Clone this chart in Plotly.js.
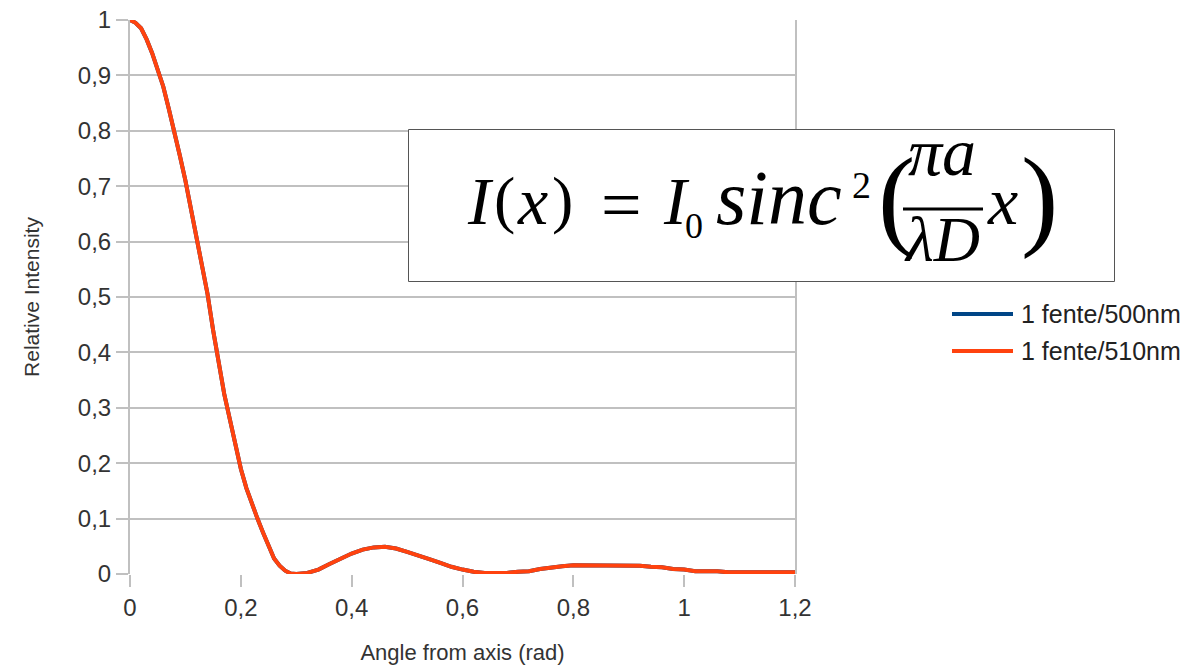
<!DOCTYPE html>
<html>
<head>
<meta charset="utf-8">
<script src="https://cdn.plot.ly/plotly-3.0.1.min.js"></script>
<style>html,body{margin:0;padding:0;background:#fff;}#chart{width:1203px;height:668px;}</style>
</head>
<body>
<div id="chart"></div>
<script>
// ---- data ----
const angle = [0,0.01,0.02,0.03,0.04,0.05,0.06,0.07,0.08,0.09,0.10,0.11,0.12,0.13,0.14,0.15,0.16,0.17,0.18,0.19,0.20,0.21,0.22,0.23,0.24,0.25,0.26,0.27,0.28,0.29,0.30,
  0.32,0.34,0.36,0.38,0.40,0.42,0.44,0.46,0.48,0.50,0.52,0.54,0.56,0.58,0.60,0.62,0.64,0.66,0.68,0.70,0.72,0.74,0.76,0.78,0.80,0.82,0.84,0.86,0.88,0.90,0.92,0.94,0.96,0.98,1.00,1.02,1.04,1.06,1.08,1.10,1.12,1.14,1.16,1.18,1.20];
const intensity510 = [1.0,0.995,0.985,0.965,0.94,0.91,0.88,0.84,0.80,0.755,0.71,0.66,0.61,0.555,0.505,0.44,0.38,0.325,0.28,0.235,0.19,0.155,0.125,0.10,0.075,0.05,0.028,0.015,0.006,0.001,0.0,
  0.002,0.008,0.018,0.028,0.037,0.044,0.048,0.049,0.046,0.040,0.034,0.027,0.020,0.013,0.008,0.004,0.002,0.002,0.002,0.004,0.005,0.009,0.012,0.014,0.016,0.016,0.016,0.016,0.016,0.016,0.015,0.013,0.012,0.009,0.008,0.005,0.005,0.005,0.003,0.003,0.003,0.003,0.003,0.003,0.003];
const intensity500 = intensity510.slice(); // hidden below the 510 nm curve in the picture
const seriesNames = ["1 fente/500nm", "1 fente/510nm"];
const seriesColors = ["#004586", "#ff420e"];
const yTicks = [0,0.1,0.2,0.3,0.4,0.5,0.6,0.7,0.8,0.9,1];
const yTickLabels = ["0","0,1","0,2","0,3","0,4","0,5","0,6","0,7","0,8","0,9","1"];
const xTicks = [0,0.2,0.4,0.6,0.8,1,1.2];
const xTickLabels = ["0","0,2","0,4","0,6","0,8","1","1,2"];

// ---- layout helpers (pixel -> paper) ----
const L = 130, R = 795, T = 20, B = 574;
const px = v => (v - L) / (R - L);
const py = v => (B - v) / (B - T);

const grid = "#c0c0c0";
const textCol = "#333333";
const sans = "Liberation Sans, Arial, sans-serif";
const serif = "Liberation Serif, Times New Roman, serif";

const traces = [
  {x: angle, y: intensity500, name: seriesNames[0], mode: "lines", line: {color: seriesColors[0], width: 4}, cliponaxis: false, showlegend: false},
  {x: angle, y: intensity510, name: seriesNames[1], mode: "lines", line: {color: seriesColors[1], width: 4}, cliponaxis: false, showlegend: false}
];

// equation glyph pieces
const K = 0.39; // middle-of-box to baseline offset as a fraction of font size
function eq(text, x, base, size, anchor) {
  return {xref:"paper", yref:"paper", x: px(x), y: py(base - K * size), xanchor: anchor || "center", yanchor: "middle",
          text: text, showarrow: false, font: {family: serif, size: size, color: "#000"}};
}
const annotations = [
  // legend texts
  {xref:"paper", yref:"paper", x: px(1019), y: py(314), xanchor:"left", yanchor:"middle", text: seriesNames[0], showarrow:false, font:{family:sans, size:25, color:"#222"}},
  {xref:"paper", yref:"paper", x: px(1019), y: py(351), xanchor:"left", yanchor:"middle", text: seriesNames[1], showarrow:false, font:{family:sans, size:25, color:"#222"}},
  // equation
  eq("<i>I</i>", 465, 228, 68, "left"),
  eq("(", 504, 224, 64),
  eq("<i>x</i>", 532, 228, 68),
  eq(")", 562, 224, 64),
  eq("=", 621, 233, 72),
  eq("<i>I</i>", 661, 228, 68, "left"),
  eq("0", 694, 240, 36),
  eq("<i>sinc</i>", 779, 228, 78),
  eq("2", 861, 200, 38),
  eq("(", 896, 241, 112),
  eq("<i>πa</i>", 942, 179, 68),
  eq("<i>λD</i>", 942, 264, 64),
  eq("<i>x</i>", 1002, 228, 68),
  eq(")", 1039, 241, 112)
];

const shapes = [
  // equation box
  {type:"rect", xref:"paper", yref:"paper", x0: px(408.5), x1: px(1114.5), y0: py(281.5), y1: py(129.5), line:{color:"#555", width:1}, fillcolor:"#fff", layer:"above"},
  // fraction bar
  {type:"line", xref:"paper", yref:"paper", x0: px(903), x1: px(983), y0: py(209), y1: py(209), line:{color:"#000", width:3}, layer:"above"},
  // legend lines
  {type:"line", xref:"paper", yref:"paper", x0: px(952), x1: px(1013), y0: py(314), y1: py(314), line:{color:seriesColors[0], width:4}},
  {type:"line", xref:"paper", yref:"paper", x0: px(952), x1: px(1013), y0: py(351), y1: py(351), line:{color:seriesColors[1], width:4}}
];

const layout = {
  width: 1203, height: 668,
  margin: {l: L, r: 1203 - R, t: T, b: 668 - B, pad: 0},
  paper_bgcolor: "#fff", plot_bgcolor: "#fff",
  showlegend: false,
  font: {family: sans, color: textCol},
  xaxis: {
    range: [0, 1.2], tickvals: xTicks, ticktext: xTickLabels,
    showgrid: false, zeroline: false, showline: false,
    ticks: "outside", ticklen: 12, tickwidth: 2, tickcolor: grid,
    tickfont: {family: sans, size: 24, color: textCol},
    title: {text: "Angle from axis (rad)", font: {family: sans, size: 22, color: textCol}, standoff: 24}
  },
  yaxis: {
    range: [0, 1], tickvals: yTicks, ticktext: yTickLabels,
    showgrid: true, gridcolor: grid, gridwidth: 2, zeroline: false,
    showline: true, linecolor: grid, linewidth: 2, mirror: true,
    ticks: "outside", ticklen: 12, tickwidth: 2, tickcolor: grid,
    tickfont: {family: sans, size: 24, color: textCol},
    title: {text: "Relative Intensity", font: {family: sans, size: 21, color: textCol}, standoff: 32}
  },
  annotations: annotations,
  shapes: shapes
};

Plotly.newPlot("chart", traces, layout, {staticPlot: true, displayModeBar: false});
</script>
</body>
</html>
